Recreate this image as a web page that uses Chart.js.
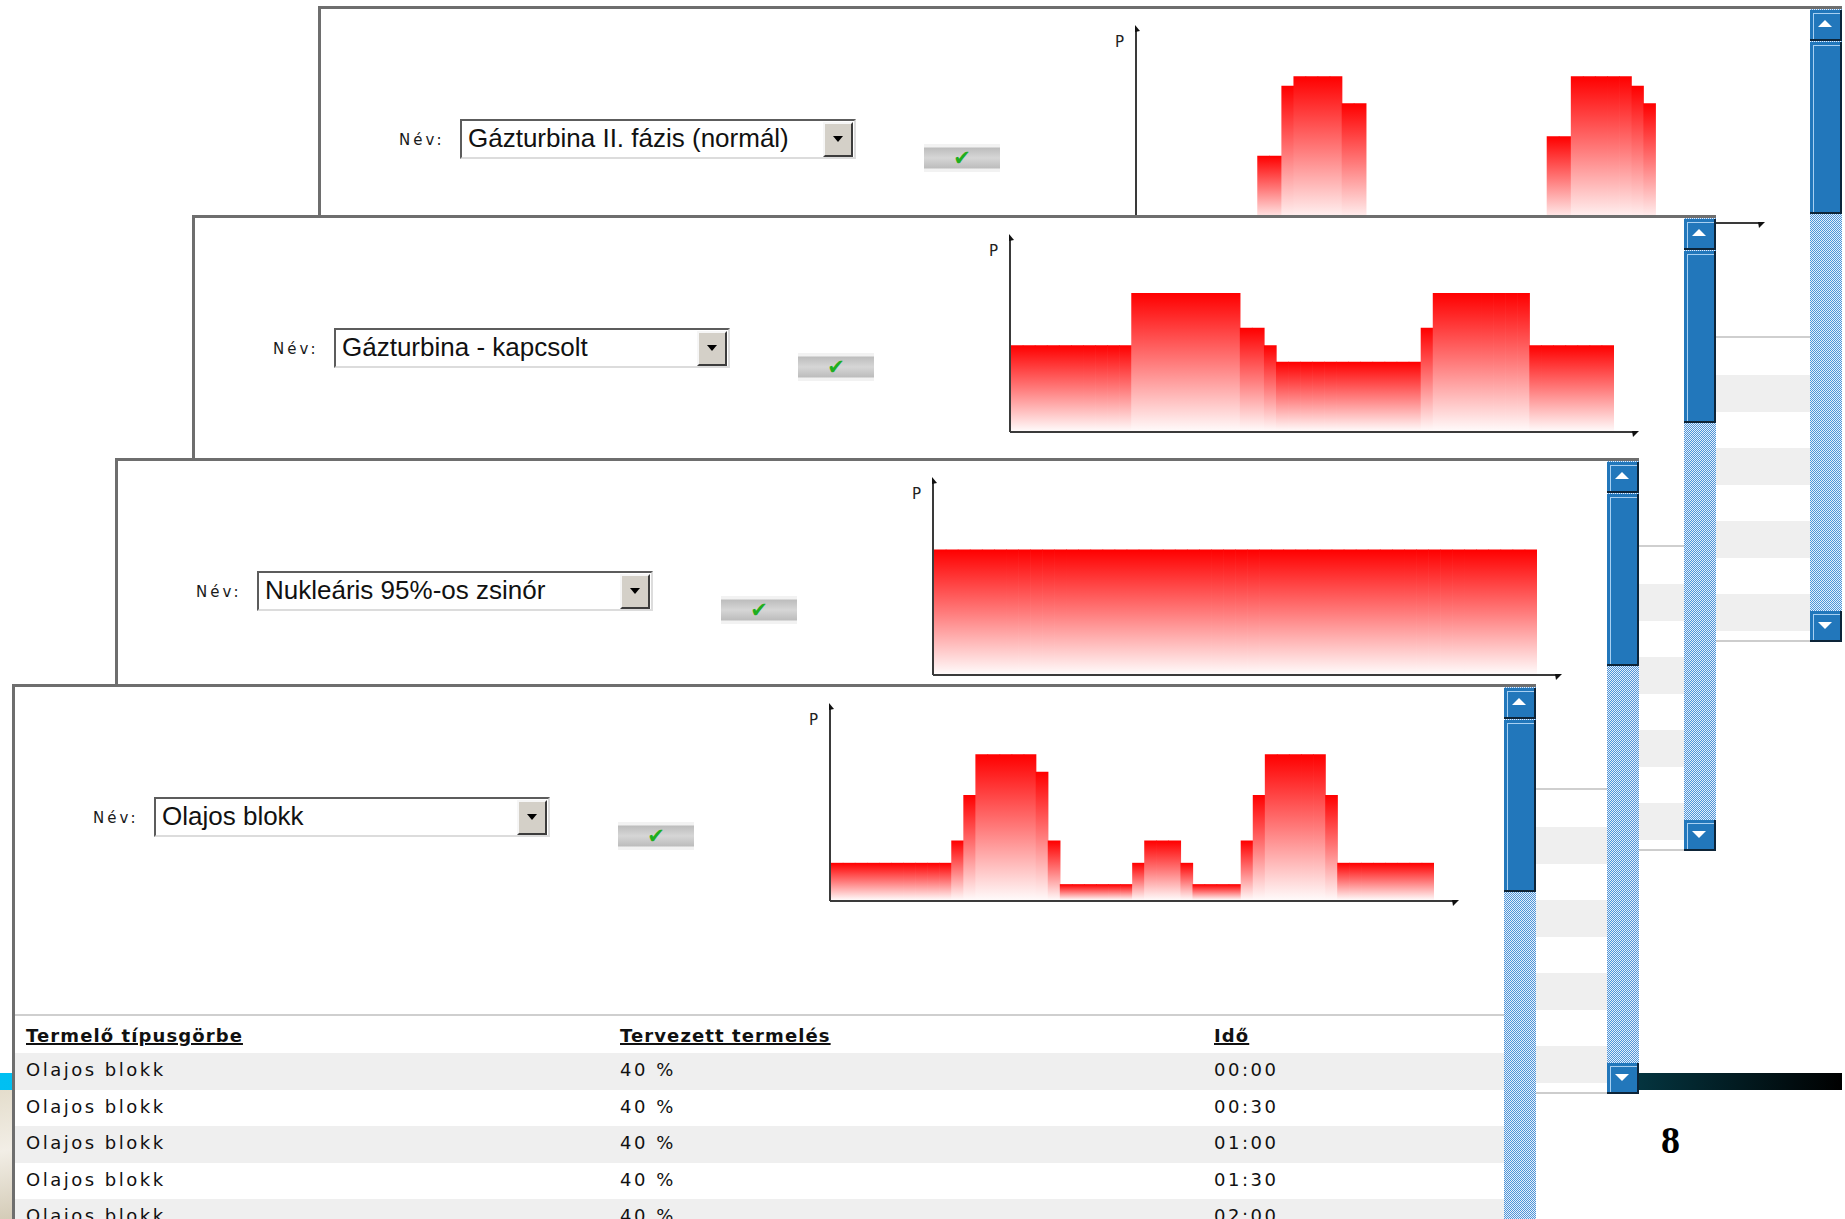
<!DOCTYPE html>
<html>
<head>
<meta charset="utf-8">
<script src="https://cdn.jsdelivr.net/npm/chart.js@4.4.0/dist/chart.umd.min.js"></script>
<style>
  html, body { margin: 0; padding: 0; background: #fff; }
  body { width: 1845px; height: 1219px; overflow: hidden; position: relative; font-family: "DejaVu Sans", sans-serif; }

  .deco-bar { position: absolute; left: 0; top: 1073px; width: 1842px; height: 17px;
    background: linear-gradient(to right, #00c0f2 0px, #00a4dc 700px, #0a5564 1300px, #04343f 1640px, #000 1842px); }
  .deco-img { position: absolute; left: 0; top: 1090px; width: 40px; height: 129px;
    background: linear-gradient(170deg, #e4ddcc 0%, #f2eee6 45%, #d2c9b4 100%); }
  .page-no { position: absolute; left: 1661px; top: 1118px; font: bold 38px "Liberation Serif", serif; color: #000; }

  .win { position: absolute; width: 1524px; height: 636px; background: #fff;
    box-shadow: inset 3px 3px 0 #6e6e6e, inset 0 -2px 0 #cdcdcd; }

  .nev { position: absolute; left: 81px; top: 124px; height: 20px; line-height: 20px;
    font-size: 15px; letter-spacing: 3px; color: #1a1a1a; }
  .sel { position: absolute; left: 142px; top: 113px; width: 396px; height: 40px; box-sizing: border-box;
    background: #fff; border: 2px solid; border-color: #5c5c5c #dcdcdc #dcdcdc #5c5c5c; }
  .sel span { position: absolute; left: 6px; top: 2px; line-height: 36px; font: 26px "Liberation Sans", sans-serif; color: #111; white-space: nowrap; }
  .sel-btn { position: absolute; right: 1px; top: 1px; width: 30px; height: 35px; box-sizing: border-box;
    background: #d4d0c8; border: 2px solid; border-color: #f6f6f6 #3c3c3c #3c3c3c #f6f6f6; }
  .sel-btn i { position: absolute; left: 8px; top: 12px; width: 0; height: 0;
    border-left: 5px solid transparent; border-right: 5px solid transparent; border-top: 6px solid #000; }

  .ok { position: absolute; left: 606px; top: 138px; width: 76px; height: 28px;
    background: linear-gradient(to bottom, #f2f2f2 0, #f2f2f2 3px, #bdbdbd 4px, #d6d6d6 50%, #bdbdbd 24px, #f2f2f2 25px, #f2f2f2 100%); }
  .ok span { position: absolute; left: 0; right: 0; top: 1px; text-align: center; font-size: 21px; line-height: 26px; color: #1fae1f; }

  .p-lbl { position: absolute; left: 797px; top: 27px; font-size: 15px; color: #222; }
  .chart-box { position: absolute; left: 790px; top: 8px; width: 690px; height: 230px; }

  .sep { position: absolute; left: 3px; top: 330px; width: 1489px; height: 2px; background: #cfcfcf; }
  .row { position: absolute; left: 3px; width: 1489px; height: 36.5px; }
  .row.alt { background: #efefef; }
  .row div { position: absolute; top: 0; line-height: 33px; font-size: 18px; letter-spacing: 2.5px; color: #111; white-space: nowrap; }
  .row.head { height: 35px; top: 334px; }
  .row.head div { font-weight: bold; letter-spacing: 1.1px; text-decoration: underline; text-decoration-thickness: 2px; line-height: 35px; }

  .sb { position: absolute; left: 1492px; top: 3px; width: 32px; height: 633px;
    background-color: #9cc4ea;
    background-image: repeating-conic-gradient(#4f95d8 0 25%, #e6f0fb 0 50%);
    background-size: 2px 2px; }
  .sb-btn, .sb-thumb { position: absolute; left: 0; width: 32px; box-sizing: border-box; background: #2277bb;
    border-right: 2px solid #0d2438; border-bottom: 2px solid #0d2438;
    box-shadow: inset 3px 3px 0 #2277bb, inset 4px 4px 0 #a8d0f2; }
  .sb-up { top: 1px; height: 31px; }
  .sb-down { bottom: 0; height: 31px; }
  .sb-thumb { top: 33px; height: 172px; }
  .sb-btn i { position: absolute; left: 8px; width: 0; height: 0; border-left: 7px solid transparent; border-right: 7px solid transparent; }
  .sb-up i { top: 10px; border-bottom: 7px solid #fff; }
  .sb-down i { top: 11px; border-top: 7px solid #fff; }
</style>
</head>
<body>

<div class="deco-bar"></div>
<div class="deco-img"></div>
<div class="page-no">8</div>

<script>
// === DATA ===
// 50 time slots on the x axis, values are % of the P axis height
const slots = Array.from({ length: 50 }, (_, i) => i + 1);

const windowNames = [
  "Gázturbina II. fázis (normál)",
  "Gázturbina - kapcsolt",
  "Nukleáris 95%-os zsinór",
  "Olajos blokk"
];

const fazisValues = [
  0, 0, 0, 0, 0, 0, 0, 0, 0, 0,
  34, 34, 70, 75, 75, 75, 75, 61, 61, 0,
  0, 0, 0, 0, 0, 0, 0, 0, 0, 0,
  0, 0, 0, 0, 44, 44, 75, 75, 75, 75,
  75, 70, 61, 0, 0, 0, 0, 0, 0, 0
];

const kapcsoltValues = [
  44, 44, 44, 44, 44, 44, 44, 44, 44, 44,
  71, 71, 71, 71, 71, 71, 71, 71, 71, 53,
  53, 44, 35.5, 35.5, 35.5, 35.5, 35.5, 35.5, 35.5, 35.5,
  35.5, 35.5, 35.5, 35.5, 53, 71, 71, 71, 71, 71,
  71, 71, 71, 44, 44, 44, 44, 44, 44, 44
];

const nuklearisValues = [
  64, 64, 64, 64, 64, 64, 64, 64, 64, 64,
  64, 64, 64, 64, 64, 64, 64, 64, 64, 64,
  64, 64, 64, 64, 64, 64, 64, 64, 64, 64,
  64, 64, 64, 64, 64, 64, 64, 64, 64, 64,
  64, 64, 64, 64, 64, 64, 64, 64, 64, 64
];

const olajosValues = [
  19, 19, 19, 19, 19, 19, 19, 19, 19, 19,
  30.5, 54, 75, 75, 75, 75, 75, 66, 30.5, 8,
  8, 8, 8, 8, 8, 19, 30.5, 30.5, 30.5, 19,
  8, 8, 8, 8, 30.5, 54, 75, 75, 75, 75,
  75, 54, 19, 19, 19, 19, 19, 19, 19, 19
];

const seriesList = [fazisValues, kapcsoltValues, nuklearisValues, olajosValues];

// table columns
const tableHeads = ["Termelő típusgörbe", "Tervezett termelés", "Idő"];
const tableShare = ["40 %", "40 %", "40 %", "40 %", "40 %", "40 %", "40 %", "40 %"];
const tableTimes = ["00:00", "00:30", "01:00", "01:30", "02:00", "02:30", "03:00", "03:30"];

// === LAYOUT (window corners on the slide) ===
const windowPos = [[318, 6], [192, 215], [115, 458], [12, 684]];
const colX = [11, 605, 1199];

// === BUILD WINDOWS ===
function windowHtml(i) {
  let rows = "";
  tableTimes.forEach((t, r) => {
    rows += `
      <div class="row ${r % 2 === 0 ? "alt" : ""}" style="top:${369 + r * 36.5}px">
        <div style="left:${colX[0]}px">${windowNames[i]}</div>
        <div style="left:${colX[1]}px">${tableShare[r]}</div>
        <div style="left:${colX[2]}px">${t}</div>
      </div>`;
  });

  return `
    <div class="win" style="left:${windowPos[i][0]}px;top:${windowPos[i][1]}px;z-index:${i + 1}">
      <div class="nev">Név:</div>
      <div class="sel"><span>${windowNames[i]}</span><div class="sel-btn"><i></i></div></div>
      <div class="ok"><span>✔</span></div>
      <div class="p-lbl">P</div>
      <div class="chart-box"><canvas id="chart${i}" width="690" height="230"></canvas></div>
      <div class="sep"></div>
      <div class="row head">
        <div style="left:${colX[0]}px">${tableHeads[0]}</div>
        <div style="left:${colX[1]}px">${tableHeads[1]}</div>
        <div style="left:${colX[2]}px">${tableHeads[2]}</div>
      </div>
      ${rows}
      <div class="sb">
        <div class="sb-btn sb-up"><i></i></div>
        <div class="sb-thumb"></div>
        <div class="sb-btn sb-down"><i></i></div>
      </div>
    </div>`;
}

document.body.insertAdjacentHTML("beforeend", windowNames.map((_, i) => windowHtml(i)).join(""));

// === AXES WITH ARROWS ===
const arrowAxes = {
  id: "arrowAxes",
  afterDatasetsDraw(chart) {
    const { ctx, scales } = chart;
    const x0 = Math.round(scales.x.left) - 1;
    const y0 = Math.round(scales.y.getPixelForValue(0)) + 1;
    const top = scales.y.top;
    const end = scales.x.right + 23;

    ctx.save();
    ctx.strokeStyle = "#3a3a3a";
    ctx.lineWidth = 2;
    ctx.beginPath();
    ctx.moveTo(x0, y0);
    ctx.lineTo(x0, top);
    ctx.moveTo(x0, y0);
    ctx.lineTo(end, y0);
    ctx.stroke();

    ctx.fillStyle = "#111";
    ctx.beginPath();
    ctx.moveTo(x0 - 1, top - 3);
    ctx.lineTo(x0 + 4, top + 3);
    ctx.lineTo(x0 - 1, top + 4);
    ctx.fill();
    ctx.beginPath();
    ctx.moveTo(end + 2, y0 - 1);
    ctx.lineTo(end - 5, y0 - 1);
    ctx.lineTo(end - 4, y0 + 5);
    ctx.fill();
    ctx.restore();
  }
};

// red -> white fade from the top of every bar down to the base
function barFade(c) {
  const chart = c.chart;
  const v = c.parsed ? c.parsed.y : null;
  if (!chart.chartArea || v == null) return "#ff0000";
  if (v === 0) return "rgba(0,0,0,0)";
  const y = chart.scales.y;
  const g = chart.ctx.createLinearGradient(0, y.getPixelForValue(v), 0, y.getPixelForValue(0));
  g.addColorStop(0, "#ff0000");
  g.addColorStop(0.5, "#ff7a7a");
  g.addColorStop(1, "#fffafa");
  return g;
}

// === CHARTS ===
seriesList.forEach((values, i) => {
  new Chart(document.getElementById("chart" + i), {
    type: "bar",
    data: {
      labels: slots,
      datasets: [{
        data: values,
        backgroundColor: barFade,
        borderWidth: 0,
        barPercentage: 1,
        categoryPercentage: 1
      }]
    },
    options: {
      responsive: false,
      animation: false,
      devicePixelRatio: 1,
      layout: { padding: { left: 29, top: 14, right: 58, bottom: 22 } },
      plugins: { legend: { display: false }, tooltip: { enabled: false } },
      scales: {
        x: { display: false },
        y: { display: false, min: 0, max: 100 }
      }
    },
    plugins: [arrowAxes]
  });
});
</script>
</body>
</html>
